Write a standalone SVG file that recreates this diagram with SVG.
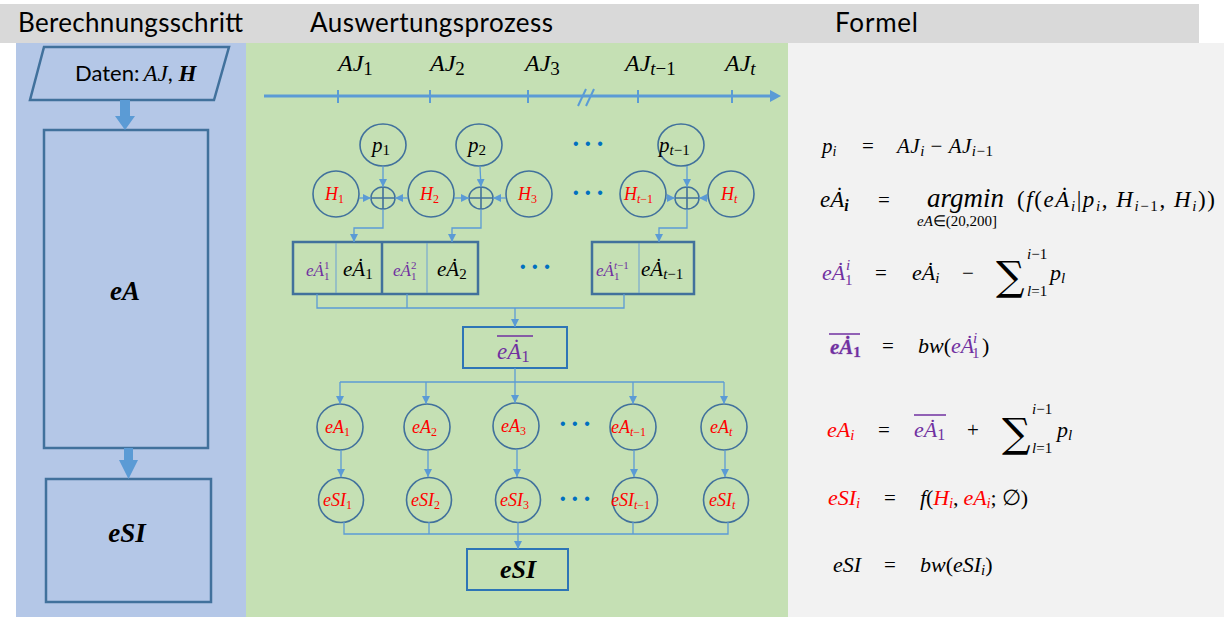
<svg xmlns="http://www.w3.org/2000/svg" width="1224" height="617" viewBox="0 0 1224 617">
  <defs>
    <marker id="arr" viewBox="0 0 10 10" refX="10" refY="5" markerWidth="8" markerHeight="8" markerUnits="userSpaceOnUse" orient="auto">
      <path d="M0,0 L10,5 L0,10 z" fill="#5b9bd5"/>
    </marker>
  </defs>
  <style>
    .hdr { font-family: Lato, "Open Sans", "Liberation Sans", sans-serif; font-size: 26px; fill: #000; }
    .sans { font-family: Lato, "Open Sans", "Liberation Sans", sans-serif; fill: #000; }
    .m { font-family: "Liberation Serif", serif; font-style: italic; fill: #000; }
    .n { font-style: normal; }
    .b { font-weight: bold; }
    .red { fill: #ff0000; }
    .pur { fill: #7030a0; }
    .node { fill: none; stroke: #41719c; stroke-width: 1.6; }
    .box { fill: none; stroke: #41719c; stroke-width: 2.5; }
    .thin { stroke: #6a9fd4; stroke-width: 1; }
    .res { fill: none; stroke: #2e75b6; stroke-width: 2; }
    .step { fill: none; stroke: #41719c; stroke-width: 2.5; }
    .con { fill: none; stroke: #5b9bd5; stroke-width: 1.3; }
    .dots { font-family: "Liberation Sans", sans-serif; font-size: 16px; fill: #0070c0; letter-spacing: 6.5px; }
    .sig { font-family: "DejaVu Serif", serif; font-size: 40px; fill: #000; }
  </style>

  <!-- column backgrounds -->
  <rect x="0" y="0" width="1224" height="617" fill="#ffffff"/>
  <rect x="16" y="43" width="230" height="574" fill="#b4c7e7"/>
  <rect x="246" y="43" width="542" height="574" fill="#c5e0b4"/>
  <rect x="788" y="43" width="436" height="574" fill="#f2f2f2"/>
  <rect x="0" y="4" width="1199" height="39" fill="#d9d9d9"/>

  <!-- column headings -->
  <text class="hdr" x="18" y="32" textLength="225">Berechnungsschritt</text>
  <text class="hdr" x="310" y="32" textLength="243">Auswertungsprozess</text>
  <text class="hdr" x="835" y="32" textLength="83">Formel</text>

  <!-- calculation steps -->
  <g id="step-input">
    <polygon class="step" points="44,47 229,47 214,100 30,100"/>
    <text class="sans" x="75" y="81" font-size="22">Daten:<tspan class="m" font-size="23" dx="4">AJ</tspan><tspan font-size="22">, </tspan><tspan class="m b" font-size="23">H</tspan></text>
  </g>
  <g id="step-eA">
    <rect class="step" x="44" y="130" width="164" height="318"/>
    <text class="m b" x="125" y="300" font-size="27" text-anchor="middle">eA</text>
  </g>
  <g id="step-eSI">
    <rect class="step" x="46" y="479" width="165" height="123"/>
    <text class="m b" x="127" y="542" font-size="27" text-anchor="middle">eSI</text>
  </g>
  <g id="step-arrows" fill="#5b9bd5">
    <polygon points="120,100 130,100 130,116 135,116 125,130 115,116 120,116"/>
    <polygon points="124,448 133,448 133,460 138,460 128.5,479 119,460 124,460"/>
  </g>

  <!-- timeline -->
  <g id="timeline">
    <line x1="264" y1="96" x2="772" y2="96" stroke="#5b9bd5" stroke-width="3"/>
    <path d="M770,90 L781,96 L770,102 z" fill="#5b9bd5"/>
    <g stroke="#5b9bd5" stroke-width="2">
      <line x1="338" y1="90" x2="338" y2="103"/>
      <line x1="430" y1="90" x2="430" y2="103"/>
      <line x1="528" y1="90" x2="528" y2="103"/>
      <line x1="638" y1="90" x2="638" y2="103"/>
      <line x1="732" y1="90" x2="732" y2="103"/>
      <line x1="578" y1="106" x2="586" y2="89"/>
      <line x1="586" y1="106" x2="594" y2="89"/>
    </g>
    <text class="m" x="338" y="71" font-size="24">AJ<tspan class="n" font-size="19" dy="4">1</tspan></text>
    <text class="m" x="430" y="71" font-size="24">AJ<tspan class="n" font-size="19" dy="4">2</tspan></text>
    <text class="m" x="525" y="71" font-size="24">AJ<tspan class="n" font-size="19" dy="4">3</tspan></text>
    <text class="m" x="625" y="71" font-size="24">AJ<tspan font-size="19" dy="4">t</tspan><tspan class="n" font-size="19">−1</tspan></text>
    <text class="m" x="725" y="71" font-size="24">AJ<tspan font-size="19" dy="4">t</tspan></text>
  </g>

  <!-- period nodes -->
  <g id="p1"><ellipse class="node" cx="383" cy="145" rx="23" ry="21"/><text class="m" x="372" y="152" font-size="21">p<tspan class="n" font-size="15" dy="3">1</tspan></text></g>
  <g id="p2"><ellipse class="node" cx="479" cy="145" rx="23" ry="21"/><text class="m" x="468" y="152" font-size="21">p<tspan class="n" font-size="15" dy="3">2</tspan></text></g>
  <g id="pt1"><ellipse class="node" cx="681" cy="145" rx="23" ry="21"/><text class="m" x="659" y="152" font-size="21">p<tspan font-size="15" dy="3">t</tspan><tspan class="n" font-size="15">−1</tspan></text></g>

  <!-- H nodes -->
  <g id="H1"><circle class="node" cx="336" cy="194" r="23"/><text class="m red" x="325" y="200" font-size="18">H<tspan class="n" font-size="12" dy="3">1</tspan></text></g>
  <g id="H2"><circle class="node" cx="431" cy="194" r="23"/><text class="m red" x="420" y="200" font-size="18">H<tspan class="n" font-size="12" dy="3">2</tspan></text></g>
  <g id="H3"><circle class="node" cx="529" cy="194" r="23"/><text class="m red" x="518" y="200" font-size="18">H<tspan class="n" font-size="12" dy="3">3</tspan></text></g>
  <g id="Ht1"><circle class="node" cx="643" cy="194" r="23"/><text class="m red" x="624" y="200" font-size="18">H<tspan font-size="12" dy="3">t</tspan><tspan class="n" font-size="12">−1</tspan></text></g>
  <g id="Ht"><circle class="node" cx="731" cy="194" r="23"/><text class="m red" x="721" y="200" font-size="18">H<tspan font-size="12" dy="3">t</tspan></text></g>

  <!-- summing junctions -->
  <g id="sum1"><ellipse class="node" cx="383" cy="198" rx="12" ry="11"/><path class="node" d="M371,198 H395 M383,187 V209"/></g>
  <g id="sum2"><ellipse class="node" cx="481" cy="198" rx="12" ry="11"/><path class="node" d="M469,198 H493 M481,187 V209"/></g>
  <g id="sum3"><ellipse class="node" cx="687" cy="198" rx="12" ry="11"/><path class="node" d="M675,198 H699 M687,187 V209"/></g>

  <text class="dots" x="573" y="149">•••</text>
  <text class="dots" x="573" y="198">•••</text>

  <!-- per-period estimate boxes -->
  <g id="est12">
    <rect class="box" x="293" y="242" width="185" height="52"/>
    <line class="thin" x1="336" y1="243" x2="336" y2="293"/>
    <line x1="382" y1="243" x2="382" y2="293" stroke="#41719c" stroke-width="2.5"/>
    <line class="thin" x1="427" y1="243" x2="427" y2="293"/>
    <text class="m pur" x="306" y="276" font-size="17">eȦ</text>
    <text class="m pur n" x="324" y="269" font-size="11">1</text>
    <text class="m pur n" x="324" y="280" font-size="11">1</text>
    <text class="m" x="343" y="276" font-size="21">eȦ<tspan class="n" font-size="15" dy="3">1</tspan></text>
    <text class="m pur" x="393" y="276" font-size="17">eȦ</text>
    <text class="m pur n" x="411" y="269" font-size="11">2</text>
    <text class="m pur n" x="411" y="280" font-size="11">1</text>
    <text class="m" x="437" y="276" font-size="21">eȦ<tspan class="n" font-size="15" dy="3">2</tspan></text>
  </g>
  <g id="est-t1">
    <rect class="box" x="592" y="242" width="102" height="52"/>
    <line class="thin" x1="639" y1="243" x2="639" y2="293"/>
    <text class="m pur" x="596" y="276" font-size="17">eȦ</text>
    <text class="m pur" x="614" y="269" font-size="11">t<tspan class="n">−1</tspan></text>
    <text class="m pur n" x="614" y="280" font-size="11">1</text>
    <text class="m" x="641" y="276" font-size="21">eȦ<tspan font-size="15" dy="3">t</tspan><tspan class="n" font-size="15">−1</tspan></text>
  </g>
  <text class="dots" x="520" y="272">•••</text>

  <!-- averaged start value -->
  <g id="eA1-mean">
    <rect class="res" x="463" y="327" width="104" height="41"/>
    <line x1="497" y1="336" x2="533" y2="336" stroke="#7030a0" stroke-width="1.5"/>
    <text class="m pur" x="497" y="359" font-size="23">eȦ<tspan class="n" font-size="17" dy="3">1</tspan></text>
  </g>

  <!-- eA nodes -->
  <g id="eA1"><circle class="node" cx="340" cy="427" r="23"/><text class="m red" x="325" y="433" font-size="18">eA<tspan class="n" font-size="12" dy="3">1</tspan></text></g>
  <g id="eA2"><circle class="node" cx="427" cy="427" r="23"/><text class="m red" x="412" y="433" font-size="18">eA<tspan class="n" font-size="12" dy="3">2</tspan></text></g>
  <g id="eA3"><circle class="node" cx="516" cy="426" r="23"/><text class="m red" x="501" y="432" font-size="18">eA<tspan class="n" font-size="12" dy="3">3</tspan></text></g>
  <g id="eAt1"><circle class="node" cx="633" cy="427" r="23"/><text class="m red" x="611" y="433" font-size="18">eA<tspan font-size="12" dy="3">t</tspan><tspan class="n" font-size="12">−1</tspan></text></g>
  <g id="eAt"><circle class="node" cx="724" cy="427" r="23"/><text class="m red" x="710" y="433" font-size="18">eA<tspan font-size="12" dy="3">t</tspan></text></g>
  <text class="dots" x="560" y="429">•••</text>

  <!-- eSI nodes -->
  <g id="eSI1"><circle class="node" cx="341" cy="500" r="22.5"/><text class="m red" x="323" y="506" font-size="18">eSI<tspan class="n" font-size="12" dy="3">1</tspan></text></g>
  <g id="eSI2"><circle class="node" cx="429" cy="500" r="22.5"/><text class="m red" x="411" y="506" font-size="18">eSI<tspan class="n" font-size="12" dy="3">2</tspan></text></g>
  <g id="eSI3"><circle class="node" cx="518" cy="500" r="22.5"/><text class="m red" x="500" y="506" font-size="18">eSI<tspan class="n" font-size="12" dy="3">3</tspan></text></g>
  <g id="eSIt1"><circle class="node" cx="635" cy="500" r="22.5"/><text class="m red" x="611" y="506" font-size="18">eSI<tspan font-size="12" dy="3">t</tspan><tspan class="n" font-size="12">−1</tspan></text></g>
  <g id="eSIt"><circle class="node" cx="726" cy="500" r="22.5"/><text class="m red" x="709" y="506" font-size="18">eSI<tspan font-size="12" dy="3">t</tspan></text></g>
  <text class="dots" x="560" y="504">•••</text>

  <!-- overall result -->
  <g id="eSI-total">
    <rect class="res" x="467" y="549" width="101" height="41"/>
    <text class="m b" x="518" y="578" font-size="26" text-anchor="middle">eSI</text>
  </g>

  <!-- connectors -->
  <g id="connectors">
    <line class="con" x1="383" y1="166" x2="383" y2="187" marker-end="url(#arr)"/>
    <line class="con" x1="480" y1="166" x2="481" y2="187" marker-end="url(#arr)"/>
    <line class="con" x1="687" y1="166" x2="687" y2="187" marker-end="url(#arr)"/>
    <line class="con" x1="359" y1="198" x2="371" y2="198" marker-end="url(#arr)"/>
    <line class="con" x1="408" y1="198" x2="395" y2="198" marker-end="url(#arr)"/>
    <line class="con" x1="454" y1="198" x2="469" y2="198" marker-end="url(#arr)"/>
    <line class="con" x1="506" y1="198" x2="493" y2="198" marker-end="url(#arr)"/>
    <line class="con" x1="666" y1="198" x2="675" y2="198" marker-end="url(#arr)"/>
    <line class="con" x1="708" y1="198" x2="699" y2="198" marker-end="url(#arr)"/>
    <polyline class="con" points="383,209 383,228 354,228 354,242" marker-end="url(#arr)"/>
    <polyline class="con" points="481,209 481,228 452,228 452,242" marker-end="url(#arr)"/>
    <polyline class="con" points="687,209 687,228 659,228 659,242" marker-end="url(#arr)"/>
    <polyline class="con" points="317,294 317,308 624,308 624,294"/>
    <line class="con" x1="407" y1="294" x2="407" y2="308"/>
    <line class="con" x1="515" y1="308" x2="515" y2="327" marker-end="url(#arr)"/>
    <line class="con" x1="515" y1="368" x2="515" y2="403" marker-end="url(#arr)"/>
    <line class="con" x1="340" y1="382" x2="724" y2="382"/>
    <line class="con" x1="340" y1="382" x2="340" y2="404" marker-end="url(#arr)"/>
    <line class="con" x1="426" y1="382" x2="426" y2="404" marker-end="url(#arr)"/>
    <line class="con" x1="633" y1="382" x2="633" y2="404" marker-end="url(#arr)"/>
    <line class="con" x1="724" y1="382" x2="724" y2="404" marker-end="url(#arr)"/>
    <line class="con" x1="341" y1="450" x2="341" y2="477" marker-end="url(#arr)"/>
    <line class="con" x1="428" y1="450" x2="428" y2="477" marker-end="url(#arr)"/>
    <line class="con" x1="517" y1="449" x2="517" y2="477" marker-end="url(#arr)"/>
    <line class="con" x1="634" y1="450" x2="634" y2="477" marker-end="url(#arr)"/>
    <line class="con" x1="725" y1="450" x2="725" y2="477" marker-end="url(#arr)"/>
    <polyline class="con" points="344,522 344,534 728,534 728,522"/>
    <line class="con" x1="429" y1="522" x2="429" y2="534"/>
    <line class="con" x1="633" y1="522" x2="633" y2="534"/>
    <line class="con" x1="518" y1="522" x2="518" y2="549" marker-end="url(#arr)"/>
  </g>

  <!-- formulas -->
  <g id="formulas" font-size="21">
    <text class="m" x="822" y="153">p<tspan font-size="14" dy="3">i</tspan></text>
    <text class="m n" x="862" y="153">=</text>
    <text class="m" x="897" y="153" textLength="96">AJ<tspan font-size="15" dy="3">i</tspan><tspan class="n" dy="-3"> − </tspan><tspan>AJ</tspan><tspan font-size="15" dy="3">i</tspan><tspan class="n" font-size="15">−1</tspan></text>

    <text class="m" x="820" y="207" font-size="23">eȦ<tspan class="b" font-size="16" dy="4">i</tspan></text>
    <text class="m n" x="878" y="207">=</text>
    <text class="m" x="927" y="207" font-size="27">argmin</text>
    <text class="m" x="917" y="226" font-size="15">eA<tspan class="n">∈(20,200]</tspan></text>
    <text class="m" x="1017" y="207" font-size="23" textLength="198"><tspan class="n">(</tspan>f<tspan class="n">(</tspan>eȦ<tspan font-size="15" dy="4">i</tspan><tspan class="n" dy="-4">|</tspan>p<tspan font-size="15" dy="4">i</tspan><tspan class="n" dy="-4">, </tspan>H<tspan font-size="15" dy="4">i</tspan><tspan class="n" font-size="15">−1</tspan><tspan class="n" dy="-4">, </tspan>H<tspan font-size="15" dy="4">i</tspan><tspan class="n" dy="-4">))</tspan></text>

    <text class="m pur" x="822" y="280" font-size="22">eȦ</text>
    <text class="m pur" x="846" y="270" font-size="15">i</text>
    <text class="m pur n" x="845" y="285" font-size="15">1</text>
    <text class="m n" x="875" y="280">=</text>
    <text class="m" x="912" y="280" font-size="22">eȦ<tspan font-size="15" dy="3">i</tspan></text>
    <text class="m n" x="962" y="280">−</text>
    <text class="sig" x="996" y="290">∑</text>
    <text class="m" x="1027" y="259" font-size="15">i<tspan class="n">−1</tspan></text>
    <text class="m" x="1027" y="296" font-size="15">l<tspan class="n">=1</tspan></text>
    <text class="m" x="1050" y="280" font-size="22">p<tspan font-size="15" dy="3">l</tspan></text>

    <g id="mean-label">
      <line x1="829" y1="334" x2="860" y2="334" stroke="#7030a0" stroke-width="1.5"/>
      <text class="m pur b" x="830" y="354" font-size="21" style="stroke:#7030a0;stroke-opacity:0.25;stroke-width:1">eȦ<tspan class="n" font-size="15" dy="3">1</tspan></text>
    </g>
    <text class="m n" x="882" y="353">=</text>
    <text class="m" x="918" y="353" font-size="22">bw<tspan class="n">(</tspan><tspan class="pur">eȦ</tspan></text>
    <text class="m pur" x="973" y="343" font-size="15">i</text>
    <text class="m pur n" x="972" y="358" font-size="15">1</text>
    <text class="m n" x="982" y="353" font-size="22">)</text>

    <text class="m red" x="827" y="437" font-size="22">eA<tspan font-size="15" dy="3">i</tspan></text>
    <text class="m n" x="878" y="437">=</text>
    <line x1="914" y1="415" x2="946" y2="415" stroke="#7030a0" stroke-width="1.5"/>
    <text class="m pur" x="914" y="437" font-size="22">eȦ<tspan class="n" font-size="16" dy="3">1</tspan></text>
    <text class="m n" x="967" y="437">+</text>
    <text class="sig" x="1002" y="447">∑</text>
    <text class="m" x="1032" y="414" font-size="15">i<tspan class="n">−1</tspan></text>
    <text class="m" x="1032" y="453" font-size="15">l<tspan class="n">=1</tspan></text>
    <text class="m" x="1057" y="437" font-size="22">p<tspan font-size="15" dy="3">l</tspan></text>

    <text class="m red" x="828" y="505" font-size="22">eSI<tspan font-size="15" dy="3">i</tspan></text>
    <text class="m n" x="884" y="505">=</text>
    <text class="m" x="920" y="505" font-size="22" textLength="108">f<tspan class="n">(</tspan><tspan class="red">H</tspan><tspan class="red" font-size="15" dy="3">i</tspan><tspan class="n" dy="-3">, </tspan><tspan class="red">eA</tspan><tspan class="red" font-size="15" dy="3">i</tspan><tspan class="n" dy="-3">; ∅)</tspan></text>

    <text class="m" x="833" y="572" font-size="22">eSI</text>
    <text class="m n" x="884" y="572">=</text>
    <text class="m" x="920" y="572" font-size="22">bw<tspan class="n">(</tspan>eSI<tspan font-size="15" dy="3">i</tspan><tspan class="n" dy="-3">)</tspan></text>
  </g>
</svg>
